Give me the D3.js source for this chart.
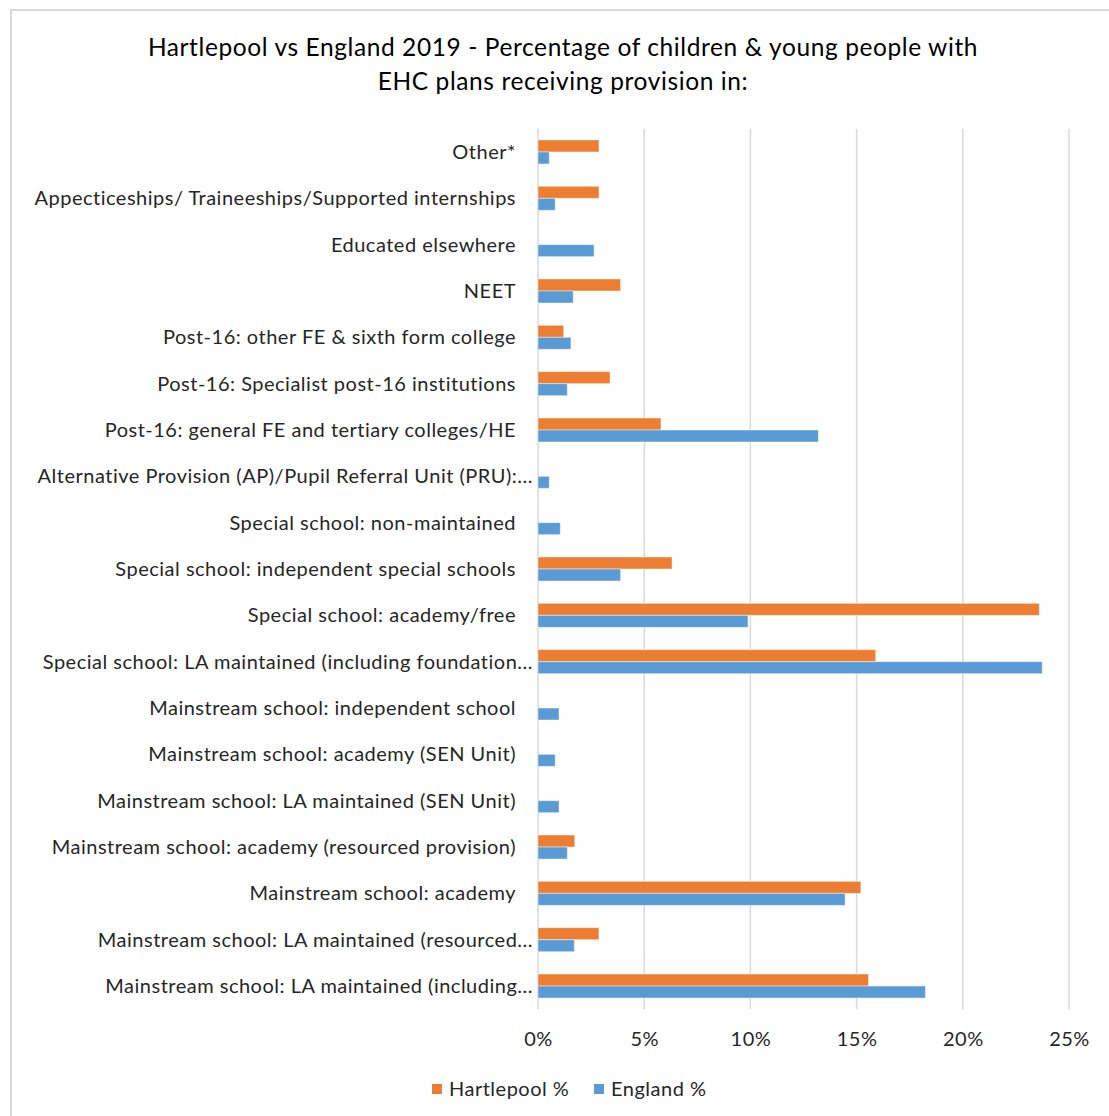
<!DOCTYPE html>
<html>
<head>
<meta charset="utf-8">
<script src="https://cdn.jsdelivr.net/npm/d3@7"></script>
<style>
  html, body { margin: 0; padding: 0; background: #fff; }
  svg { display: block; }
  text { font-family: Lato, "Open Sans", "DejaVu Sans", sans-serif; }
</style>
</head>
<body>
<script>
// Provision types, listed top to bottom as they appear on the axis
const categories = [
  "Other*",
  "Appecticeships/ Traineeships/Supported internships",
  "Educated elsewhere",
  "NEET",
  "Post-16: other FE & sixth form college",
  "Post-16: Specialist post-16 institutions",
  "Post-16: general FE and tertiary colleges/HE",
  "Alternative Provision (AP)/Pupil Referral Unit (PRU):...",
  "Special school: non-maintained",
  "Special school: independent special schools",
  "Special school: academy/free",
  "Special school: LA maintained (including foundation...",
  "Mainstream school: independent school",
  "Mainstream school: academy (SEN Unit)",
  "Mainstream school: LA maintained (SEN Unit)",
  "Mainstream school: academy (resourced provision)",
  "Mainstream school: academy",
  "Mainstream school: LA maintained (resourced...",
  "Mainstream school: LA maintained (including..."
];

// Percentage of children & young people with EHC plans, 2019
const hartlepool = [2.87, 2.87, 0, 3.89, 1.21, 3.39, 5.79, 0, 0, 6.31, 23.6, 15.9, 0, 0, 0, 1.73, 15.2, 2.87, 15.56];
const england    = [0.53, 0.81, 2.64, 1.66, 1.55, 1.38, 13.2, 0.53, 1.05, 3.89, 9.89, 23.74, 0.99, 0.81, 0.99, 1.38, 14.46, 1.71, 18.24];

const seriesNames = ["Hartlepool %", "England %"];
const seriesColors = ["#ED7D31", "#5B9BD5"];
const xTicks = [0, 5, 10, 15, 20, 25];

const W = 1109, H = 1116;
const plot = { left: 538, right: 1069, top: 128.8, bottom: 1009.2 };
const labelFont = 20, labelSpacing = 0.5;

const svg = d3.select("body").append("svg").attr("width", W).attr("height", H);

// chart frame
svg.append("rect")
  .attr("x", 11).attr("y", 10).attr("width", W + 10).attr("height", H + 10)
  .attr("fill", "#fff").attr("stroke", "#d9d9d9").attr("stroke-width", 2);

// title
const title = svg.append("text")
  .attr("x", 563).attr("y", 56)
  .attr("text-anchor", "middle")
  .attr("font-size", 24.5).attr("letter-spacing", 0.6).attr("fill", "#000");
title.append("tspan").attr("x", 563).text("Hartlepool vs England 2019 - Percentage of children & young people with");
title.append("tspan").attr("x", 563).attr("dy", 34).text("EHC plans receiving provision in:");

const x = d3.scaleLinear().domain([0, 25]).range([plot.left, plot.right]);
const y = d3.scaleBand().domain(categories).range([plot.top, plot.bottom]).padding(0);
const ySub = d3.scaleBand().domain(seriesNames).range([0, y.bandwidth()])
  .paddingInner(0).paddingOuter(0.93);

// vertical gridlines
svg.append("g").selectAll("line").data(xTicks).join("line")
  .attr("x1", d => x(d)).attr("x2", d => x(d))
  .attr("y1", plot.top).attr("y2", plot.bottom)
  .attr("stroke", "#d9d9d9").attr("stroke-width", 1.5);

// x axis tick labels
const xAxis = d3.axisBottom(x).tickValues(xTicks).tickFormat(d => d + "%").tickSize(0).tickPadding(0);
const gx = svg.append("g").attr("transform", `translate(0,${plot.bottom})`).call(xAxis);
gx.select(".domain").remove();
gx.selectAll("text")
  .attr("y", 37).attr("dy", 0)
  .attr("font-size", labelFont).attr("letter-spacing", labelSpacing).attr("fill", "#262626")
  .style("font-family", "Lato, 'Open Sans', sans-serif");

// category labels
const yAxis = d3.axisLeft(y).tickSize(0).tickPadding(0);
const gy = svg.append("g").attr("transform", `translate(${plot.left},0)`).call(yAxis);
gy.select(".domain").remove();
gy.selectAll("text")
  .attr("x", d => d.endsWith("...") ? -5 : -22)
  .attr("dy", "0.35em")
  .attr("font-size", labelFont).attr("letter-spacing", labelSpacing).attr("fill", "#262626")
  .style("font-family", "Lato, 'Open Sans', sans-serif");

// bars
const rows = categories.map((c, i) => ({ c, vals: [hartlepool[i], england[i]] }));
const groups = svg.append("g").selectAll("g").data(rows).join("g")
  .attr("transform", d => `translate(0,${y(d.c)})`);
groups.selectAll("rect")
  .data(d => d.vals.map((v, k) => ({ v, k })).filter(e => e.v > 0))
  .join("rect")
  .attr("x", x(0))
  .attr("y", e => ySub(seriesNames[e.k]))
  .attr("width", e => x(e.v) - x(0))
  .attr("height", ySub.bandwidth())
  .attr("fill", e => seriesColors[e.k])
  .attr("stroke", "#fff").attr("stroke-opacity", 0.45).attr("stroke-width", 1);

// legend
const legend = svg.append("g").attr("transform", "translate(432,1089)");
const items = [{ name: seriesNames[0], color: seriesColors[0], dx: 0 }, { name: seriesNames[1], color: seriesColors[1], dx: 162 }];
const li = legend.selectAll("g").data(items).join("g").attr("transform", d => `translate(${d.dx},0)`);
li.append("rect").attr("x", 0).attr("y", -5).attr("width", 10).attr("height", 10).attr("fill", d => d.color);
li.append("text").attr("x", 17).attr("dy", "0.35em")
  .attr("font-size", labelFont).attr("letter-spacing", labelSpacing).attr("fill", "#262626").text(d => d.name);
</script>
</body>
</html>
